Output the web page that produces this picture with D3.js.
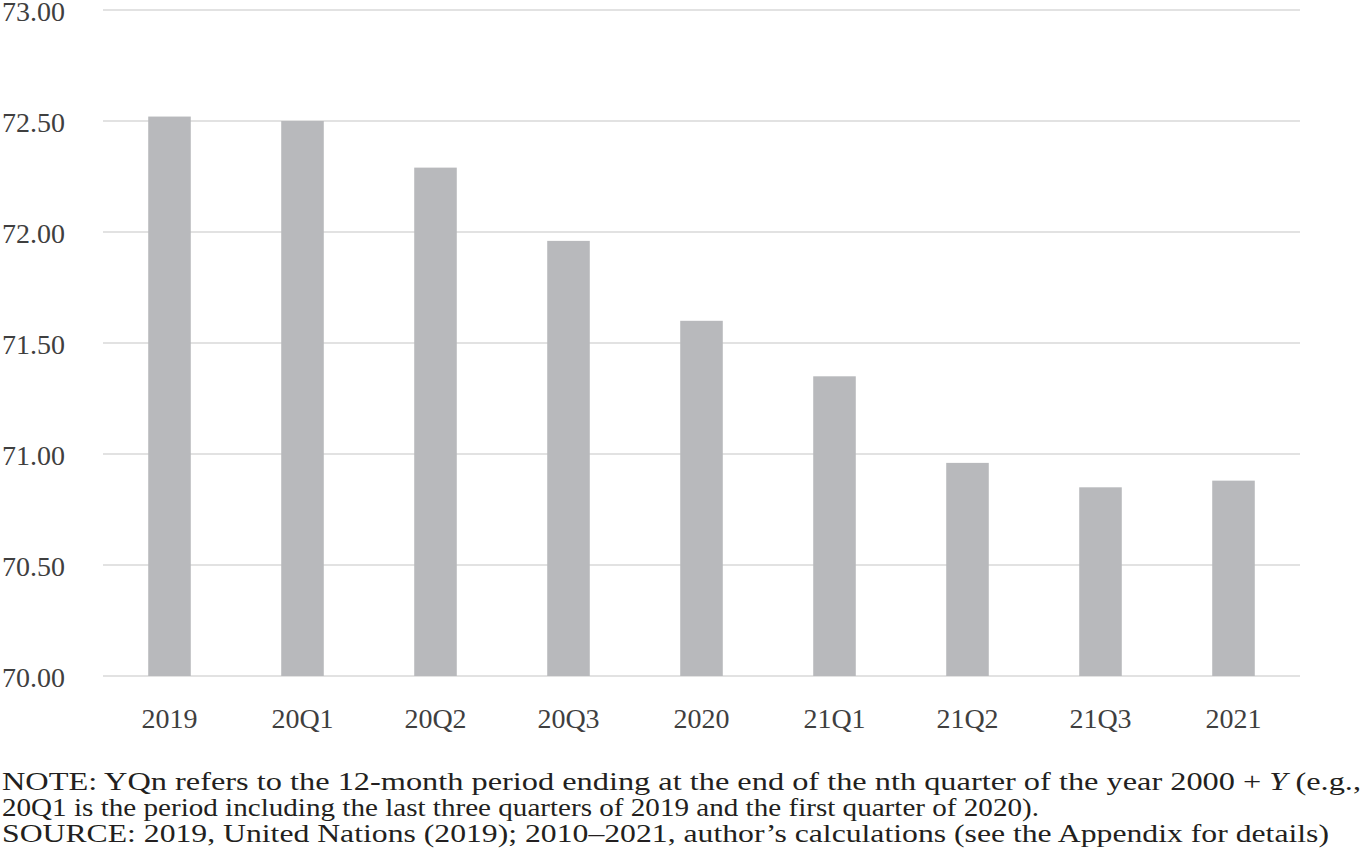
<!DOCTYPE html>
<meta charset="utf-8">
<style>
body{ margin:0; background:#fff; }
text{ font-family:"Liberation Serif","DejaVu Serif",serif; }
.tick text{ fill:#3f3f3f; font-size:28px; }
.grid line{ stroke:#e2e2e2; stroke-width:2px; }
.note{ fill:#231f20; font-size:25px; }
</style>
<body>
<script src="https://d3js.org/d3.v7.min.js"></script>
<script>
// periods on the x axis
var periods = ["2019","20Q1","20Q2","20Q3","2020","21Q1","21Q2","21Q3","2021"];
// values
var values = [72.52, 72.50, 72.29, 71.96, 71.60, 71.35, 70.96, 70.85, 70.88];
var yTicks = [70, 70.5, 71, 71.5, 72, 72.5, 73];
var notes = [
  ["NOTE: YQn refers to the 12-month period ending at the end of the nth quarter of the year 2000 + ", "Y", " (e.g.,"],
  ["20Q1 is the period including the last three quarters of 2019 and the first quarter of 2020)."],
  ["SOURCE: 2019, United Nations (2019); 2010\u20132021, author\u2019s calculations (see the Appendix for details)"]
];
var noteWidths = [1359, 1037, 1327];

var W = 1368, H = 860;
var svg = d3.select("body").append("svg").attr("width", W).attr("height", H);

var x = d3.scaleBand().domain(periods).range([103, 1300]).paddingInner(0.68).paddingOuter(0.34);
var y = d3.scaleLinear().domain([70, 73]).range([676, 10]);

// gridlines
svg.append("g").attr("class","grid")
  .selectAll("line").data(yTicks).join("line")
  .attr("x1", 103).attr("x2", 1300)
  .attr("y1", d => y(d)).attr("y2", d => y(d));

// y tick labels
var ya = svg.append("g").attr("transform","translate(65,0)")
  .call(d3.axisLeft(y).tickValues(yTicks).tickFormat(d3.format(".2f")).tickSize(0).tickPadding(0));
ya.select(".domain").remove();
ya.selectAll("text").attr("dy","0.36em");

// bars
svg.append("g").selectAll("rect").data(periods).join("rect")
  .attr("x", d => x(d))
  .attr("width", x.bandwidth())
  .attr("y", (d,i) => y(values[i]))
  .attr("height", (d,i) => y(70) - y(values[i]))
  .attr("fill", "#b8b9bc");

// x labels
var xa = svg.append("g").attr("transform","translate(0,700)")
  .call(d3.axisBottom(x).tickSize(0).tickPadding(0));
xa.select(".domain").remove();
xa.selectAll("text").attr("dy","1em");

// notes under the chart
notes.forEach(function(parts, i){
  var t = svg.append("text").attr("class","note")
    .attr("x", 2).attr("y", 790 + i*26)
    .attr("textLength", noteWidths[i]).attr("lengthAdjust","spacingAndGlyphs");
  parts.forEach(function(p, j){
    t.append("tspan").text(p).style("font-style", p === "Y" ? "italic" : null);
  });
});
</script>
</body>
